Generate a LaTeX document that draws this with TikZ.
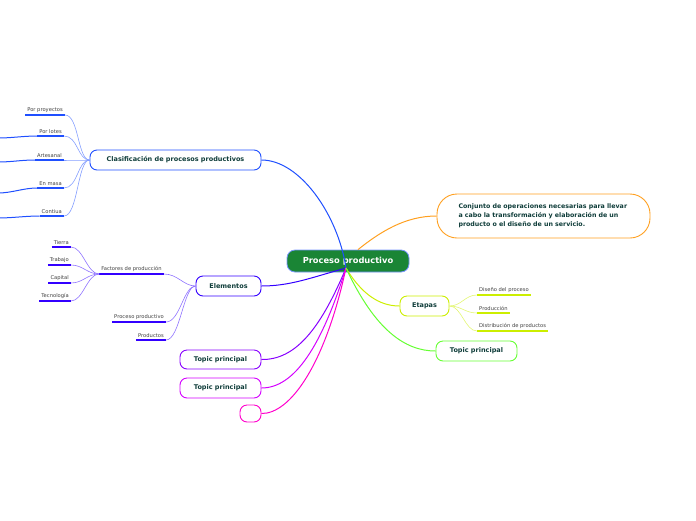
\documentclass[tikz,border=0pt]{standalone}
\usepackage{fontspec}
\setmainfont{DejaVu Sans}
\usetikzlibrary{positioning}
\definecolor{txtc}{HTML}{0F3D3A}
\definecolor{cblue}{HTML}{1F4FFF}
\definecolor{cind}{HTML}{3300FF}
\definecolor{cvio}{HTML}{8800FF}
\definecolor{cmag}{HTML}{D400FF}
\definecolor{cpink}{HTML}{FF00CC}
\definecolor{corange}{HTML}{FFA020}
\definecolor{cyel}{HTML}{CCEE00}
\definecolor{cgreen}{HTML}{66FF33}
\definecolor{cmain}{HTML}{1A8535}
\tikzset{
  topic/.style={draw=#1, line width=0.9pt, rounded corners=7pt, fill=white,
    text=txtc, font=\fontsize{6.5}{8}\selectfont\bfseries, inner sep=0pt},
  leaf/.style={text=black!75, font=\fontsize{5.2}{6}\selectfont, inner xsep=2pt, inner ysep=2pt,
    append after command={(\tikzlastnode.south west) edge[draw=#1, line width=1.2pt] (\tikzlastnode.south east)}},
  link/.style={draw=#1!55, line width=0.6pt},
}
\begin{document}
\begin{tikzpicture}[x=1pt,y=-1pt]
    \useasboundingbox (0,0) rectangle (696,520);
    % central topic
    \node[draw=cblue!60, fill=cmain, text=white, rounded corners=8pt, line width=0.8pt,
      minimum width=122pt, minimum height=22pt, font=\fontsize{8.3}{10}\selectfont\bfseries]
      (main) at (348,261) {Proceso productivo};
    \coordinate (hub) at (346,268);

    % main branches
    \node[topic=cblue, minimum width=171pt, minimum height=20pt] (cls) at (175.5,160) {Clasificación de procesos productivos};
    \node[topic=cind, minimum width=65pt, minimum height=20pt] (elem) at (228.5,286) {Elementos};
    \node[topic=cvio, minimum width=81pt, minimum height=19pt] (tp1) at (220.5,359.5) {Topic principal};
    \node[topic=cmag, minimum width=81pt, minimum height=20pt] (tp2) at (220.5,388) {Topic principal};
    \node[topic=cpink, minimum width=21pt, minimum height=17pt] (empty) at (250.5,413.5) {};
    \node[topic=corange, rounded corners=20pt, minimum width=213pt, minimum height=44pt,
      align=left, text width=170pt, font=\fontsize{6.3}{9}\selectfont\bfseries] (desc) at (543.5,216)
      {Conjunto de operaciones necesarias para llevar a cabo la transformación y elaboración de un producto o el diseño de un servicio.};
    \node[topic=cyel, minimum width=49pt, minimum height=20pt] (etapas) at (424.5,306) {Etapas};
    \node[topic=cgreen, minimum width=81pt, minimum height=20pt] (tp3) at (476.5,351) {Topic principal};

    \draw[cblue, line width=1pt] (hub) .. controls (338,215) and (300,160) .. (cls.east);
    \draw[cind, line width=1pt] (hub) .. controls (310,278) and (290,286) .. (elem.east);
    \draw[cvio, line width=1pt] (hub) .. controls (320,330) and (295,360) .. (tp1.east);
    \draw[cmag, line width=1pt] (hub) .. controls (322,345) and (295,388) .. (tp2.east);
    \draw[cpink, line width=1pt] (hub) .. controls (325,365) and (290,414) .. (empty.east);
    \draw[corange, line width=1pt] (main.north) ++(10,0) .. controls (380,232) and (405,216) .. (desc.west);
    \draw[cyel, line width=1pt] (hub) .. controls (365,300) and (385,306) .. (etapas.west);
    \draw[cgreen, line width=1pt] (hub) .. controls (375,330) and (405,351) .. (tp3.west);

    % clasificacion leaves
    \node[leaf=cblue, anchor=south east] (proy) at (65,115) {Por proyectos};
    \node[leaf=cblue, anchor=south east] (lotes) at (64,136) {Por lotes};
    \node[leaf=cblue, anchor=south east] (arte) at (64,160) {Artesanal};
    \node[leaf=cblue, anchor=south east] (masa) at (64,188) {En masa};
    \node[leaf=cblue, anchor=south east] (cont) at (64,216) {Contiua};
    \foreach \n in {proy,lotes,arte,masa,cont}
      \draw[link=cblue] (\n.south east) .. controls +(14,0) and +(-12,0) .. (cls.west);
    \foreach \n/\y in {lotes/138,arte/162,masa/193,cont/218} {
      \coordinate (off-\n) at (-2,\y);
      \draw[link=cblue, line width=1pt, draw=cblue] (off-\n) .. controls +(14,0) and +(-14,0) .. (\n.south west);
    }

    % elementos leaves
    \node[leaf=cind, anchor=south] (fact) at (131.5,274) {Factores de producción};
    \node[leaf=cind, anchor=south east] (proc) at (166,322) {Proceso productivo};
    \node[leaf=cind, anchor=south east] (prod) at (166,340) {Productos};
    \foreach \n in {fact,proc,prod}
      \draw[link=cind] (\n.south east) .. controls +(14,0) and +(-12,0) .. (elem.west);
    \node[leaf=cind, anchor=south east] (tierra) at (71,247) {Tierra};
    \node[leaf=cind, anchor=south east] (trab) at (71,265) {Trabajo};
    \node[leaf=cind, anchor=south east] (capi) at (71,283) {Capital};
    \node[leaf=cind, anchor=south east] (tecn) at (71,301) {Tecnología};
    \foreach \n in {tierra,trab,capi,tecn}
      \draw[link=cind] (\n.south east) .. controls +(12,0) and +(-12,0) .. (fact.south west);

    % etapas leaves
    \node[leaf=cyel, anchor=south west] (dise) at (477,295) {Diseño del proceso};
    \node[leaf=cyel, anchor=south west] (produ) at (477,313) {Producción};
    \node[leaf=cyel, anchor=south west] (dist) at (477,331) {Distribución de productos};
    \foreach \n in {dise,produ,dist}
      \draw[link=cyel] (etapas.east) .. controls +(12,0) and +(-12,0) .. (\n.south west);
\end{tikzpicture}
\end{document}
